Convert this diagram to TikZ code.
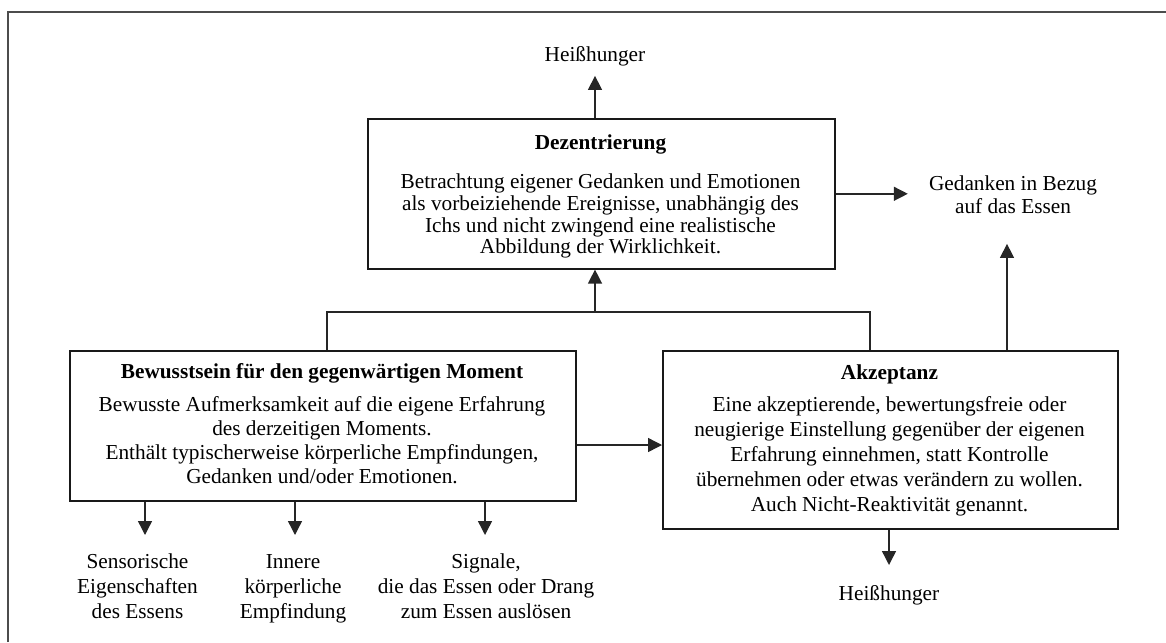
\documentclass[tikz,border=0pt]{standalone}
\usepackage{fontspec}
\setmainfont{Liberation Serif}
\usetikzlibrary{arrows.meta}
\newcommand{\fsa}{\fontsize{21.3}{21.7}\selectfont}
\newcommand{\fsb}{\fontsize{21.3}{24}\selectfont}
\newcommand{\fsc}{\fontsize{21.3}{25}\selectfont}
\newcommand{\fsd}{\fontsize{21.3}{23}\selectfont}
\begin{document}
\begin{tikzpicture}[x=1pt,y=-1pt,
  boxshape/.style={draw=black!90, line width=1.6pt, inner sep=0pt, anchor=north west},
  boxtext/.style={align=center, inner sep=0pt, anchor=north},
  lbl/.style={align=center, inner sep=0pt, anchor=north},
  link/.style={draw=black!85, line width=1.4pt},
  arr/.style={link, -{Triangle[length=14pt,width=14pt]}},
  frame/.style={draw=black!70, line width=1.5pt}]
\useasboundingbox (0,0) rectangle (1166,642);
% outer frame (only top and left edges are visible)
\coordinate (ftl) at (8,12);
\coordinate (ftr) at (1166,12);
\coordinate (fbl) at (8,642);
\draw[frame] (fbl) -- (ftl) -- (ftr);

% boxes
\node[boxshape, minimum width=467pt, minimum height=150pt] (dez) at (367,118) {};
\node[boxshape, minimum width=506pt, minimum height=150pt] (bew) at (69,350) {};
\node[boxshape, minimum width=455pt, minimum height=178pt] (akz) at (662,350) {};

% box texts
\node[boxtext, font=\fsa] (dezt) at (600.5,134.9)
  {\textbf{Dezentrierung}\\[17.3pt]
   Betrachtung eigener Gedanken und Emotionen\\
   als vorbeiziehende Ereignisse, unabhängig des\\
   Ichs und nicht zwingend eine realistische\\
   Abbildung der Wirklichkeit.};
\node[boxtext, font=\fsb] (bewt) at (322,363.3)
  {\textbf{Bewusstsein für den gegenwärtigen Moment}\\[9pt]
   Bewusste Aufmerksamkeit auf die eigene Erfahrung\\
   des derzeitigen Moments.\\
   Enthält typischerweise körperliche Empfindungen,\\
   Gedanken und/oder Emotionen.};
\node[boxtext, font=\fsc] (akzt) at (889.5,364.3)
  {\textbf{Akzeptanz}\\[7pt]
   Eine akzeptierende, bewertungsfreie oder\\
   neugierige Einstellung gegenüber der eigenen\\
   Erfahrung einnehmen, statt Kontrolle\\
   übernehmen oder etwas verändern zu wollen.\\
   Auch Nicht-Reaktivität genannt.};

% free labels
\node[lbl, font=\fsa] (h1) at (595,46.5) {Heißhunger};
\node[lbl, font=\fsd] (ged) at (1013,175.5) {Gedanken in Bezug\\auf das Essen};
\node[lbl, font=\fsa] (h2) at (889,585.5) {Heißhunger};
\node[lbl, font=\fsc] (s1) at (137.5,553.5) {Sensorische\\Eigenschaften\\des Essens};
\node[lbl, font=\fsc] (s2) at (293,553.9) {Innere\\körperliche\\Empfindung};
\node[lbl, font=\fsc] (s3) at (486,553.5) {Signale,\\die das Essen oder Drang\\zum Essen auslösen};

% connectors
\draw[arr, shorten >=9.4pt] (h1 |- dez.north) -- (h1.south);
\draw[arr, shorten >=21pt] (dez.east) -- (dez.east -| ged.west);
\draw[arr, shorten >=30pt] (1007,0 |- akz.north) -- (1007,0 |- ged.south);

\coordinate (jl) at (327,312);
\coordinate (jm) at (595,312);
\coordinate (jr) at (870,312);
\draw[link] (jl |- bew.north) -- (jl) -- (jr) -- (jr |- akz.north);
\draw[arr] (jm) -- (jm |- dez.south);

\draw[arr] (bew.east |- 0,445) -- (akz.west |- 0,445);

\draw[arr, shorten >=18.5pt] (145,0 |- bew.south) -- (145,0 |- s1.north);
\draw[arr, shorten >=18.9pt] (295,0 |- bew.south) -- (295,0 |- s2.north);
\draw[arr, shorten >=18.5pt] (485,0 |- bew.south) -- (485,0 |- s3.north);
\draw[arr, shorten >=20.5pt] (akz.south -| h2) -- (h2.north);
\end{tikzpicture}
\end{document}
